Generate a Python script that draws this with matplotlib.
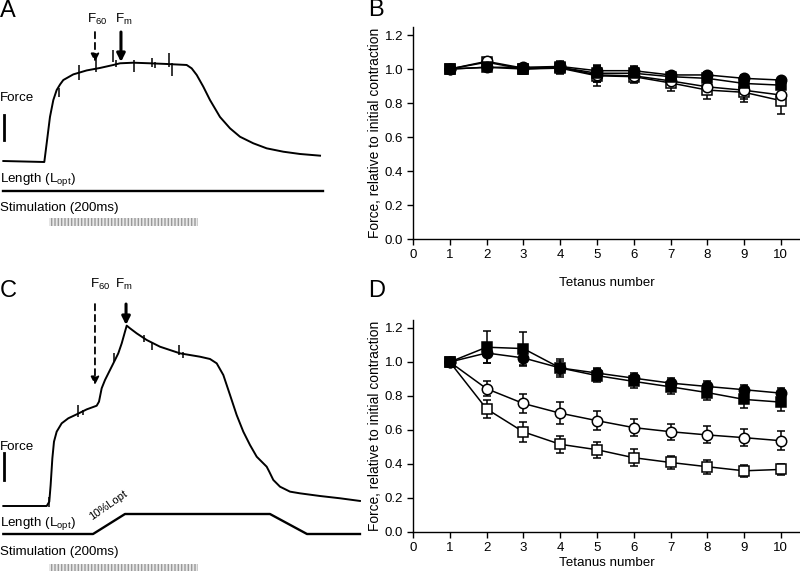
import numpy as np
import matplotlib.pyplot as plt

plt.rcParams['font.family'] = ['Liberation Sans', 'DejaVu Sans']
plt.rcParams['mathtext.default'] = 'regular'

W, H = 800, 571

# --- panel A: isometric tetanus (time in ms, force in a.u.) ---
a_time = [-61.3, -6.3, -3.1, 1.3, 5.8, 10.3, 15.0, 19.2, 32.6, 50.6, 68.5, 86.3, 95.3,
          113.2, 135.6, 158.0, 184.8, 191.5, 198.3, 207.1, 216.1, 229.5, 243.0,
          256.4, 274.2, 292.2, 314.5, 336.9, 363.8]
a_force = [0.01, 0.0, 0.19, 0.455, 0.626, 0.727, 0.785, 0.828, 0.885, 0.925, 0.95, 0.98, 0.997,
           1.003, 0.997, 0.99, 0.98, 0.946, 0.879, 0.761, 0.626, 0.455, 0.34,
           0.255, 0.189, 0.138, 0.104, 0.081, 0.064]
a_art_time = [13.4, 40.3, 63.1, 85.9, 89.9, 114.0, 138.0, 142.0, 161.0, 165.0]
a_art_hi = [0.747, 0.98, 1.05, 1.13, 1.03, 1.03, 1.05, 1.01, 1.10, 1.00]
a_art_lo = [0.657, 0.828, 0.909, 1.01, 0.96, 0.91, 0.96, 0.95, 0.96, 0.87]
a_len_time = [-61.3, 367.8]
a_len = [0, 0]

# --- panel C: stretch during tetanus ---
c_time = [-61.3, -3.1, 0.4, 2.2, 4.5, 6.7, 10.3, 17.0, 25.9, 37.2, 50.6, 64.0, 67.1,
          70.7, 75.2, 81.9, 88.6, 93.0, 97.6, 102.0, 104.3, 108.7, 117.7, 131.1,
          149.0, 175.8, 202.7, 216.1, 225.1, 234.0, 243.0, 251.9, 260.8, 269.8,
          278.8, 292.2, 295.7, 301.1, 310.1, 323.5, 336.9, 363.8, 390.6, 417.4]
c_force = [0.0, 0.0, 0.044, 0.212, 0.481, 0.65, 0.751, 0.835, 0.886, 0.926, 0.976, 1.013,
           1.054, 1.189, 1.273, 1.374, 1.475, 1.542, 1.643, 1.761, 1.822, 1.795, 1.744,
           1.677, 1.609, 1.542, 1.508, 1.485, 1.441, 1.323, 1.121, 0.919, 0.751, 0.616,
           0.498, 0.397, 0.346, 0.263, 0.195, 0.145, 0.128, 0.101, 0.078, 0.051]
c_art_time = [0.0, 39.0, 45.6, 87.0, 127.5, 138.0, 174.5, 180.0]
c_art_hi = [0.09, 1.02, 0.97, 1.545, 1.727, 1.657, 1.626, 1.556]
c_art_lo = [-0.01, 0.90, 0.92, 1.455, 1.657, 1.576, 1.525, 1.495]
c_len_time = [-61.3, 59.1, 102.0, 296.6, 346.3, 417.4]
c_len = [0, 0, 10, 10, 0, 0]

stim_start, stim_dur = 0, 200
a_f60, a_fm = 61.7, 96.6
c_f60, c_fm = 61.7, 103.4

# --- panels B and D: force relative to first tetanus ---
tetanus = np.arange(1, 11)
b_fc = [1.0, 1.01, 1.01, 1.015, 0.99, 0.99, 0.965, 0.965, 0.945, 0.935]
b_fc_err = [0.01, 0.01, 0.02, 0.02, 0.03, 0.02, 0.015, 0.015, 0.02, 0.015]
b_fs = [1.0, 1.01, 1.0, 1.01, 0.975, 0.975, 0.955, 0.945, 0.915, 0.905]
b_fs_err = [0.01, 0.02, 0.03, 0.04, 0.05, 0.04, 0.03, 0.03, 0.03, 0.02]
b_oc = [1.0, 1.045, 1.005, 1.01, 0.965, 0.96, 0.93, 0.895, 0.875, 0.847]
b_oc_err = [0.01, 0.01, 0.02, 0.03, 0.04, 0.03, 0.03, 0.04, 0.05, 0.05]
b_os = [1.0, 1.04, 1.0, 1.005, 0.96, 0.955, 0.918, 0.876, 0.863, 0.814]
b_os_err = [0.01, 0.01, 0.02, 0.03, 0.06, 0.04, 0.05, 0.05, 0.06, 0.08]

d_fs = [1.0, 1.087, 1.079, 0.965, 0.92, 0.886, 0.854, 0.82, 0.78, 0.764]
d_fs_err = [0.01, 0.095, 0.10, 0.055, 0.04, 0.04, 0.04, 0.045, 0.05, 0.05]
d_fc = [1.0, 1.053, 1.024, 0.965, 0.935, 0.905, 0.876, 0.856, 0.837, 0.817]
d_fc_err = [0.01, 0.06, 0.04, 0.04, 0.03, 0.03, 0.03, 0.03, 0.03, 0.03]
d_oc = [1.0, 0.843, 0.756, 0.699, 0.655, 0.614, 0.59, 0.571, 0.555, 0.537]
d_oc_err = [0.01, 0.045, 0.055, 0.065, 0.055, 0.05, 0.048, 0.05, 0.05, 0.057]
d_os = [1.0, 0.724, 0.589, 0.516, 0.484, 0.437, 0.409, 0.384, 0.36, 0.368]
d_os_err = [0.01, 0.055, 0.057, 0.05, 0.047, 0.05, 0.04, 0.04, 0.035, 0.03]


def px(x, y):
    return x / W, 1 - y / H


fig = plt.figure(figsize=(W / 100, H / 100), dpi=100)


def trace_panel(top, bottom, base_py, len_py, time, force, art_t, art_hi, art_lo,
                len_t, length, stim_py, bar_py, f60_t, fm_t, f60_tip, fm_tip, arrow_top):
    ax = fig.add_axes([0, 1 - bottom / H, 1, (bottom - top) / H])
    # 99 px per force unit, 0.745 px per ms, stimulation starts at x=49 px
    ax.set_xlim(-49 / 0.745, (W - 49) / 0.745)
    ax.set_ylim((base_py - bottom) / 99, (base_py - top) / 99)
    ax.axis('off')
    ax.plot(time, force, color='black', lw=1.4)
    ax.vlines(art_t, art_lo, art_hi, color='black', lw=1.1)
    # force scale bar
    ax.plot([-60.4, -60.4], [(base_py - bar_py[0]) / 99, (base_py - bar_py[1]) / 99],
            color='black', lw=2)
    # stimulation train
    ax.broken_barh([(stim_start, stim_dur)],
                   ((base_py - stim_py[1]) / 99, (stim_py[1] - stim_py[0]) / 99),
                   facecolor='#e8e8e8', edgecolor='#9a9a9a', hatch='|||||', lw=0)
    # arrows
    ax.annotate('', xy=(f60_t, f60_tip), xytext=(f60_t, arrow_top),
                arrowprops=dict(arrowstyle='-|>', color='black', lw=1.3,
                                linestyle=(0, (3.5, 2.5)), mutation_scale=12,
                                shrinkA=0, shrinkB=0))
    ax.annotate('', xy=(fm_t, fm_tip), xytext=(fm_t, arrow_top),
                arrowprops=dict(arrowstyle='-|>', color='black', lw=2.2,
                                mutation_scale=12, shrinkA=0, shrinkB=0))
    # length trace, 2 px per % Lopt
    axl = ax.twinx()
    axl.set_ylim((len_py - bottom) / 2, (len_py - top) / 2)
    axl.axis('off')
    axl.plot(len_t, length, color='black', lw=1.7)
    return ax


trace_panel(0, 285, 162, 191, a_time, a_force, a_art_time, a_art_hi, a_art_lo,
            a_len_time, a_len, (218, 226), (115, 140), a_f60, a_fm, 1.01, 1.01, 1.313)
trace_panel(285, 571, 506, 534, c_time, c_force, c_art_time, c_art_hi, c_art_lo,
            c_len_time, c_len, (564, 572), (453, 480), c_f60, c_fm, 1.222, 1.828, 2.04)

fs = 9.6
for lab, x, y in [('A', 0, 11), ('B', 368, 10), ('C', 0, 291), ('D', 368, 291)]:
    fig.text(*px(x, y), lab, fontsize=17, va='center', ha='left')
fig.text(*px(0, 98), 'Force', fontsize=fs, va='center')
fig.text(*px(0, 447), 'Force', fontsize=fs, va='center')
fig.text(*px(0, 180), 'Length (L$_{opt}$)', fontsize=fs, va='center')
fig.text(*px(0, 524), 'Length (L$_{opt}$)', fontsize=fs, va='center')
fig.text(*px(0, 208), 'Stimulation (200ms)', fontsize=fs, va='center')
fig.text(*px(0, 552), 'Stimulation (200ms)', fontsize=fs, va='center')
fig.text(*px(87, 19), 'F$_{60}$', fontsize=fs, va='center')
fig.text(*px(115, 19), 'F$_{m}$', fontsize=fs, va='center')
fig.text(*px(90, 284), 'F$_{60}$', fontsize=fs, va='center')
fig.text(*px(115, 284), 'F$_{m}$', fontsize=fs, va='center')
fig.text(*px(108, 505), '10%Lopt', fontsize=8, rotation=35, va='center', ha='center')


def summary_panel(top, series, xlabel_y):
    ax = fig.add_axes([413 / W, 1 - (top + 212.5) / H, (W - 413) / W, 212.5 / H])
    for y, err, marker, face in series:
        ax.errorbar(tetanus, y, yerr=err, fmt='-' + marker, color='black',
                    mfc=face, mec='black', ms=7.5 if marker == 'o' else 7,
                    mew=1.1, lw=1.1, elinewidth=1.1, capsize=3, capthick=1.1)
    ax.set_xlim(0, 10.52)
    ax.set_ylim(0, 1.25)
    ax.set_xticks(range(0, 11))
    ax.set_yticks(np.arange(0, 1.21, 0.2))
    ax.set_yticklabels([f'{v:.1f}' for v in np.arange(0, 1.21, 0.2)])
    for s in ('top', 'right'):
        ax.spines[s].set_visible(False)
    for s in ('left', 'bottom'):
        ax.spines[s].set_linewidth(1.0)
    ax.tick_params(direction='out', length=4, width=1.0, labelsize=9.5, pad=3)
    ax.set_xlabel('Tetanus number', fontsize=fs)
    ax.xaxis.set_label_coords(0.5, xlabel_y)
    ax.set_ylabel('Force, relative to initial contraction', fontsize=9.9)
    ax.yaxis.set_label_coords(-0.08, 0.5)
    return ax


summary_panel(26.5, [(b_os, b_os_err, 's', 'white'), (b_oc, b_oc_err, 'o', 'white'),
                     (b_fs, b_fs_err, 's', 'black'), (b_fc, b_fc_err, 'o', 'black')],
              -38 / 212.5)
summary_panel(319.5, [(d_os, d_os_err, 's', 'white'), (d_oc, d_oc_err, 'o', 'white'),
                      (d_fs, d_fs_err, 's', 'black'), (d_fc, d_fc_err, 'o', 'black')],
              -25 / 212.5)

fig.savefig('out.png', dpi=100)
